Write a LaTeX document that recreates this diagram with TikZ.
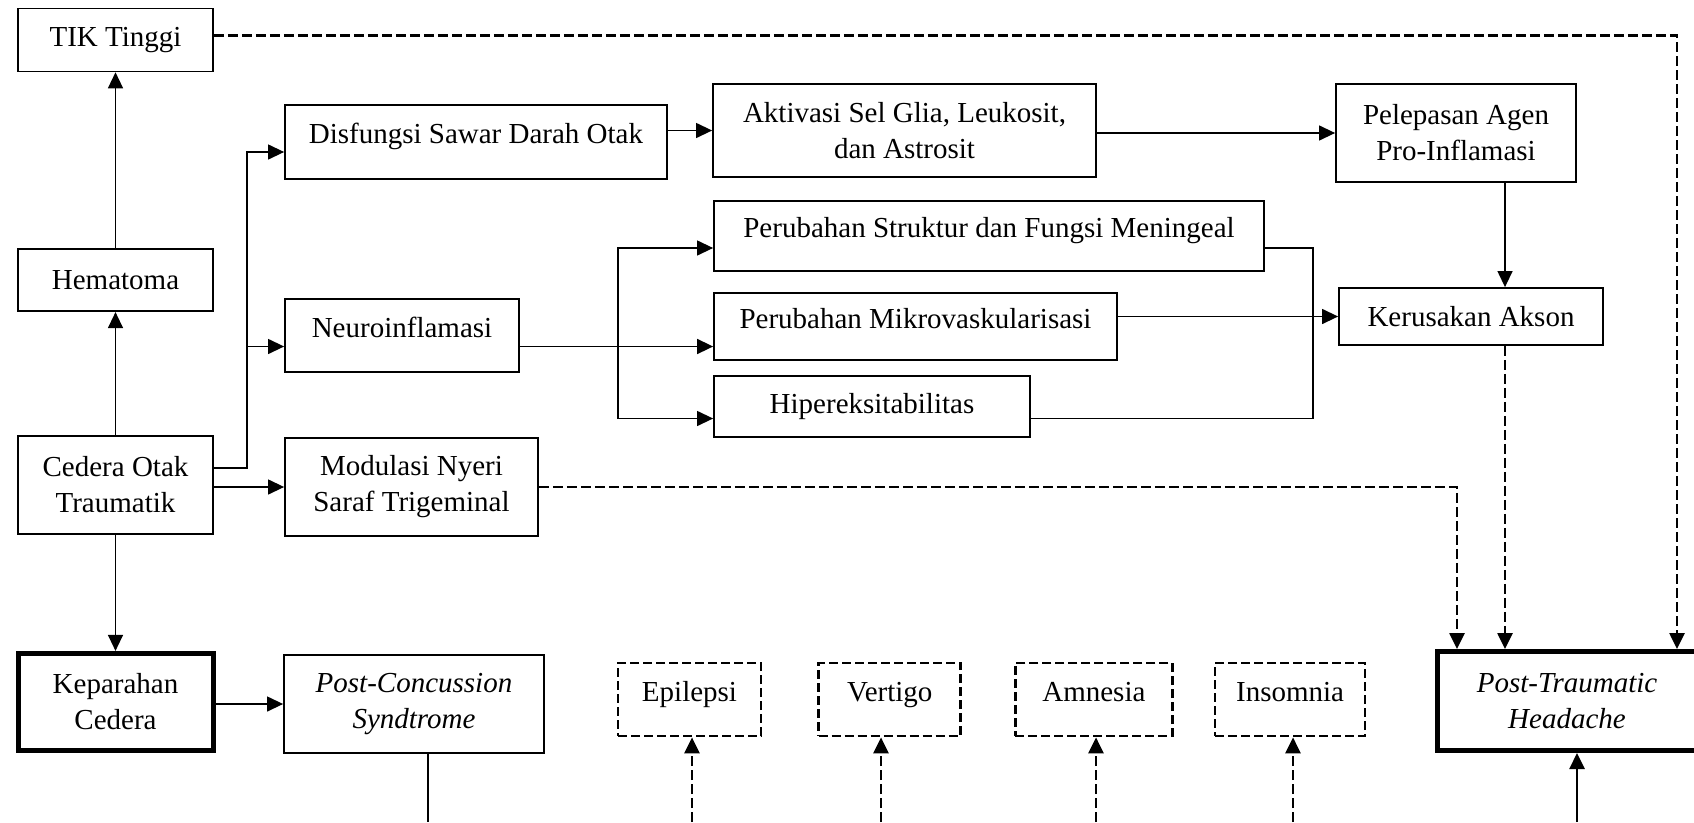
\documentclass[tikz,border=0pt]{standalone}
\usepackage{fontspec}
\setmainfont{Liberation Serif}
\usetikzlibrary{positioning,arrows.meta}

\begin{document}
\begin{tikzpicture}[x=1pt,y=-1pt,node distance=55pt,box/.style={draw,line width=1.8pt,align=center,inner sep=0pt,font=\fontsize{29}{36}\selectfont},toptext/.style={text height=20pt,text depth=17pt},kbox/.style={box,line width=5pt},sbox/.style={box,toptext,line width=2.7pt,dash pattern=on 9pt off 4pt},arr/.style={-{Triangle[length=16pt,width=15pt]},line width=1.3pt},darr/.style={arr,line width=2.7pt,dash pattern=on 10pt off 4pt},thk/.style={line width=2.6pt}]
\useasboundingbox (0,0) rectangle (1694,822);
% left column
\node[box,minimum width=195pt,minimum height=98pt] (cedera) at (115.5,485) {Cedera Otak\\Traumatik};
\node[box,minimum width=195pt,minimum height=62pt,above=123pt of cedera] (hematoma) {Hematoma};
\node[box,minimum width=195pt,minimum height=63pt,above=176pt of hematoma] (tik) {TIK Tinggi};
\node[kbox,minimum width=195pt,minimum height=97pt,below=116pt of cedera] (keparahan) {Keparahan\\Cedera};
% second column
\node[box,toptext,minimum width=382pt,minimum height=74pt] (disfungsi) at (476,142) {Disfungsi Sawar Darah Otak};
\node[box,toptext,minimum width=234pt,minimum height=73pt] (neuro) at (402,335.5) {Neuroinflamasi};
\node[box,minimum width=253pt,minimum height=98pt] (modulasi) at (411.5,487) {Modulasi Nyeri\\Saraf Trigeminal};
\node[box,minimum width=260pt,minimum height=98pt] (pcs) at (414,704) {\textit{Post-Concussion}\\\textit{Syndtrome}};
% mechanisms
\node[box,minimum width=383pt,minimum height=93pt] (aktivasi) at (904.5,130.5) {Aktivasi Sel Glia, Leukosit,\\dan Astrosit};
\node[box,toptext,minimum width=550pt,minimum height=70pt] (struktur) at (989,236) {Perubahan Struktur dan Fungsi Meningeal};
\node[box,toptext,minimum width=403pt,minimum height=67pt] (mikro) at (915.5,326.5) {Perubahan Mikrovaskularisasi};
\node[box,minimum width=316pt,minimum height=61pt] (hiper) at (872,406.5) {Hipereksitabilitas};
\node[box,minimum width=240pt,minimum height=98pt] (pelepasan) at (1456,133) {Pelepasan Agen\\Pro-Inflamasi};
\node[box,minimum width=264pt,minimum height=57pt] (kerusakan) at (1471,316.5) {Kerusakan Akson};
\node[kbox,minimum width=259pt,minimum height=99pt] (pth) at (1567,701) {\textit{Post-Traumatic}\\\textit{Headache}};
% symptoms
\node[sbox,minimum width=143pt,minimum height=73pt] (epilepsi) at (689.5,699.5) {Epilepsi};
\node[sbox,minimum width=142pt,minimum height=73pt,right=55pt of epilepsi] (vertigo) {Vertigo};
\node[sbox,minimum width=157pt,minimum height=73pt,right=52pt of vertigo] (amnesia) {Amnesia};
\node[sbox,minimum width=150pt,minimum height=73pt,right=40pt of amnesia] (insomnia) {Insomnia};

\draw[arr] (hematoma.north) -- (hematoma.north |- tik.south);
\draw[arr] (cedera.north) -- (cedera.north |- hematoma.south);
\draw[arr] (cedera.south) -- (cedera.south |- keparahan.north);
\draw[arr] ([yshift=17pt]cedera.east) -- ++(33,0) coordinate (cj) |- ([yshift=-10pt]disfungsi.west);
\draw[arr] (cj) |- ([yshift=-11pt]neuro.west);
\draw[arr] (cedera.east |- modulasi.west) -- (modulasi.west);
\draw[arr] (keparahan.east |- pcs.west) -- (pcs.west);
\draw[arr] (disfungsi.east |- aktivasi.west) -- (aktivasi.west);
\draw[arr] (aktivasi.east |- pelepasan.west) -- (pelepasan.west);
\draw[arr] ([xshift=49pt]pelepasan.south) -- ([xshift=49pt]pelepasan.south |- kerusakan.north);
\draw[arr,line width=1.6pt] ([yshift=-11pt]neuro.east) -- ++(98,0) coordinate (nj) -- (nj -| mikro.west);
\draw[arr] (nj) |- ([yshift=-12pt]struktur.west);
\draw[arr] (nj) |- ([yshift=-12pt]hiper.west);
\draw[line width=1.3pt] ([yshift=-12pt]struktur.east) -- ++(48,0) |- ([yshift=-12pt]hiper.east);
\draw[arr] (mikro.east |- kerusakan.west) -- (kerusakan.west);
% dashed paths to PTH
\draw[darr] ([xshift=34pt]kerusakan.south) -- ([xshift=34pt]kerusakan.south |- pth.north);
\draw[darr] (modulasi.east) -| ([xshift=-110pt]pth.north);
\draw[darr] ([yshift=4.5pt]tik.east) -| ([xshift=110pt]pth.north);
% lines leaving the bottom edge
\coordinate (pcsout) at (428,822);
\draw[thk] (pcsout |- pcs.south) -- (pcsout);
\foreach \n/\x in {epilepsi/692,vertigo/881,amnesia/1096,insomnia/1293}{
  \coordinate (\n-in) at (\x,822);
  \draw[darr] (\n-in) -- (\n-in |- \n.south);
}
\coordinate (pthin) at (1577,822);
\draw[arr,thk] (pthin) -- (pthin |- pth.south);
\end{tikzpicture}
\end{document}
